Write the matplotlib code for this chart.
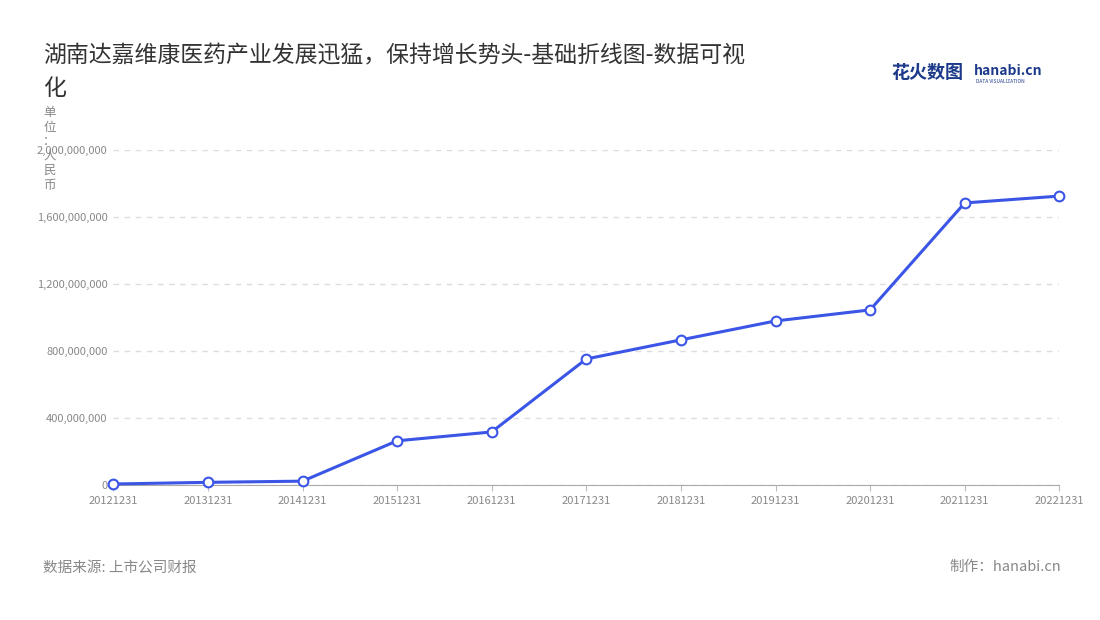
import matplotlib
matplotlib.use("Agg")
import matplotlib.pyplot as plt
from matplotlib.ticker import FuncFormatter

plt.rcParams["font.family"] = ["Noto Sans CJK SC", "DejaVu Sans"]

dates = ["20121231", "20131231", "20141231", "20151231", "20161231", "20171231",
         "20181231", "20191231", "20201231", "20211231", "20221231"]
revenue = [5e6, 15e6, 22e6, 263e6, 316e6, 752e6, 866e6, 979e6, 1045e6, 1684e6, 1725e6]
yticks = [0, 400e6, 800e6, 1200e6, 1600e6, 2000e6]

fig = plt.figure(figsize=(11, 6.2), dpi=100)
ax = fig.add_axes([0.103, 0.218, 0.860, 0.540])

x = list(range(len(dates)))
ax.plot(x, revenue, color="#3b55e6", linewidth=2.2, marker="o", markersize=7,
        markerfacecolor="white", markeredgecolor="#3b55e6", markeredgewidth=1.5,
        zorder=3, clip_on=False)

ax.set_xlim(0, len(dates) - 1)
ax.set_ylim(0, 2000e6)
ax.set_xticks(x)
ax.set_xticklabels(dates)
ax.set_yticks(yticks)
ax.yaxis.set_major_formatter(FuncFormatter(lambda v, p: f"{int(v):,}"))
ax.tick_params(axis="both", labelsize=8, colors="#888888", length=0, pad=4)
ax.tick_params(axis="x", length=4, color="#bbbbbb")
ax.grid(axis="y", linestyle=(0, (4, 4)), color="#dddddd", linewidth=1)
for s in ["top", "right", "left"]:
    ax.spines[s].set_visible(False)
ax.spines["bottom"].set_color("#aaaaaa")

fig.text(0.039, 0.91, "湖南达嘉维康医药产业发展迅猛，保持增长势头-基础折线图-数据可视",
         fontsize=16.5, color="#333333", va="center")
fig.text(0.039, 0.858, "化", fontsize=16.5, color="#333333", va="center")
fig.text(0.045, 0.76, "单\n位\n：\n人\n民\n币", fontsize=9, color="#888888",
         ha="center", va="center", linespacing=1.15)

fig.text(0.81, 0.883, "花火数图", fontsize=13, color="#1d3a8a", fontweight="bold", va="center")
fig.text(0.885, 0.886, "hanabi.cn", fontsize=10, color="#1d3a8a", fontweight="bold", va="center")
fig.text(0.887, 0.868, "DATA VISUALIZATION", fontsize=3.5, color="#1d3a8a", va="center")

fig.text(0.039, 0.085, "数据来源: 上市公司财报", fontsize=10.5, color="#888888", va="center")
fig.text(0.965, 0.085, "制作：hanabi.cn", fontsize=10.5, color="#888888", va="center", ha="right")

fig.savefig("out.png")
